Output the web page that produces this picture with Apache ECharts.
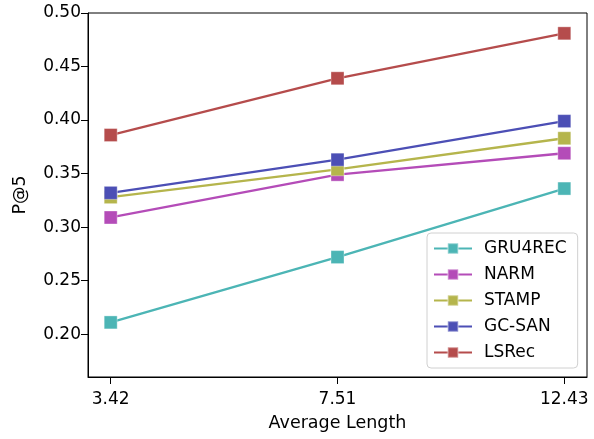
<!DOCTYPE html>
<html>
<head>
<meta charset="utf-8">
<script src="https://cdn.jsdelivr.net/npm/echarts@6/dist/echarts.min.js"></script>
<style>
  html, body { margin: 0; padding: 0; background: #fff; }
  #chart { width: 594px; height: 439px; }
</style>
</head>
<body>
<div id="chart"></div>
<script>
// x categories (average session length)
const lengths = ['3.42', '7.51', '12.43']
const yTicks = [0.20, 0.25, 0.30, 0.35, 0.40, 0.45, 0.50]

// P@5 per model
const gru4rec = [0.211, 0.272, 0.336]
const narm = [0.309, 0.349, 0.369]
const stamp = [0.328, 0.354, 0.383]
const gcsan = [0.332, 0.363, 0.399]
const lsrec = [0.386, 0.439, 0.481]

const models = ['GRU4REC', 'NARM', 'STAMP', 'GC-SAN', 'LSRec']
const colors = ['#4cb5b5', '#b44cb8', '#b5b54c', '#4c4fb5', '#b54c4c']
const values = [gru4rec, narm, stamp, gcsan, lsrec]

const font = 'DejaVu Sans'

const chart = echarts.init(document.getElementById('chart'))

const series = models.map((name, i) => ({
  name: name,
  type: 'line',
  data: values[i].map((v, j) => [j, v]),
  symbol: 'rect',
  symbolSize: 13,
  lineStyle: { width: 2.3, color: colors[i] },
  itemStyle: { color: colors[i], borderColor: 'rgba(255,255,255,0.35)', borderWidth: 1 },
  emphasis: { disabled: true },
  animation: false
}))

chart.setOption({
  animation: false,
  grid: {
    left: 88,
    top: 13,
    right: 7,
    bottom: 62,
    outerBoundsMode: 'none',
    show: true,
    borderColor: '#000',
    borderWidth: 1
  },
  xAxis: {
    type: 'value',
    min: -0.1,
    max: 2.1,
    name: 'Average Length',
    nameLocation: 'middle',
    nameGap: 37,
    nameTextStyle: { fontFamily: font, fontSize: 17.5, color: '#000' },
    axisLine: { onZero: false, lineStyle: { color: '#000', width: 1 } },
    axisTick: { customValues: [0, 1, 2], length: 7, lineStyle: { color: '#000', width: 1 } },
    axisLabel: {
      customValues: [0, 1, 2],
      formatter: v => lengths[Math.round(v)],
      fontFamily: font,
      fontSize: 17,
      color: '#000',
      margin: 14
    },
    splitLine: { show: false }
  },
  yAxis: {
    type: 'value',
    min: 0.16,
    max: 0.50,
    name: 'P@5',
    nameLocation: 'middle',
    nameGap: 59,
    nameTextStyle: { fontFamily: font, fontSize: 17.5, color: '#000' },
    axisLine: { show: true, onZero: false, lineStyle: { color: '#000', width: 1 } },
    axisTick: { show: true, customValues: yTicks, length: 7, lineStyle: { color: '#000', width: 1 } },
    axisLabel: {
      customValues: yTicks,
      formatter: v => v.toFixed(2),
      fontFamily: font,
      fontSize: 17,
      color: '#000',
      margin: 7
    },
    splitLine: { show: false }
  },
  legend: {
    orient: 'vertical',
    left: 427,
    top: 233,
    data: models,
    itemWidth: 38,
    itemHeight: 13,
    itemGap: 9,
    padding: [7, 11, 7, 6],
    borderColor: '#d0d0d0',
    borderWidth: 1,
    borderRadius: 4,
    backgroundColor: '#fff',
    textStyle: { fontFamily: font, fontSize: 17, color: '#000', lineHeight: 17, padding: [0, 0, 0, 7] }
  },
  series: series
})
</script>
</body>
</html>
